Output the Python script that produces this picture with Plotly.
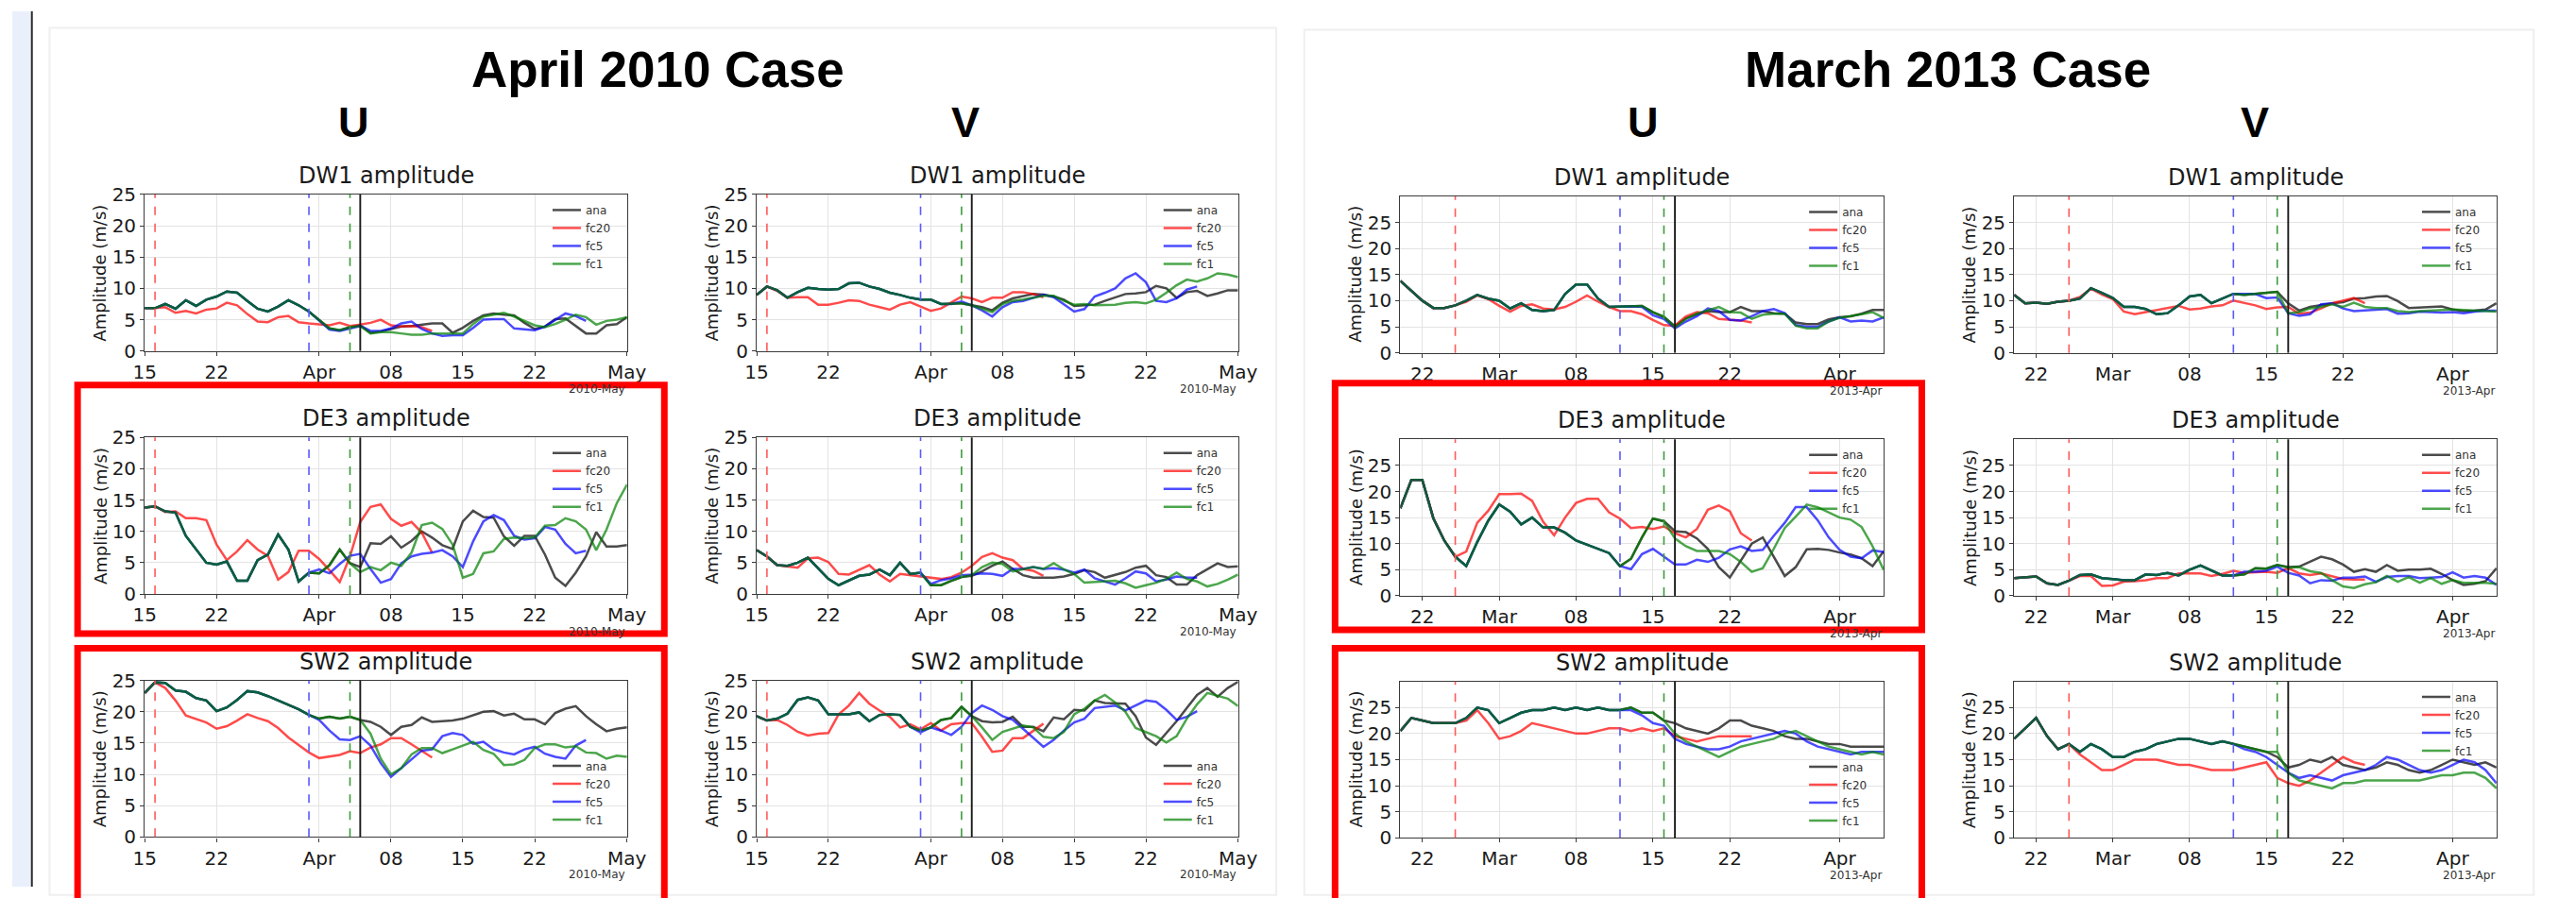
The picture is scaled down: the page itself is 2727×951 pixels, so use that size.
import plotly.graph_objects as go
import pandas as pd

W, H = 2727, 951

# ---------------- dates / init days ----------------
dates_2010 = pd.date_range("2010-03-15", "2010-05-01")
dates_2013 = pd.date_range("2013-02-20", "2013-04-05")
init_2010 = {"ana": "2010-04-05", "fc20": "2010-03-16", "fc5": "2010-03-31", "fc1": "2010-04-04"}
init_2013 = {"ana": "2013-03-17", "fc20": "2013-02-25", "fc5": "2013-03-12", "fc1": "2013-03-16"}

ticks_2010 = ["2010-03-15", "2010-03-22", "2010-04-01", "2010-04-08", "2010-04-15", "2010-04-22", "2010-05-01"]
ticktext_2010 = ["15", "22", "Apr", "08", "15", "22", "May"]
ticks_2013 = ["2013-02-22", "2013-03-01", "2013-03-08", "2013-03-15", "2013-03-22", "2013-04-01"]
ticktext_2013 = ["22", "Mar", "08", "15", "22", "Apr"]
ytick_vals = [0, 5, 10, 15, 20, 25]

# ---------------- April 2010, U ----------------
u_dw1_2010_ana = [6.85, 6.85, 7.5, 6.75, 8.1, 7.2, 8.2, 8.7, 9.5, 9.3, 8.0, 6.75, 6.3, 7.1, 8.1, 7.3, 6.3, 4.9, 3.6, 3.3, 3.8, 4.1,
                  2.9, 3.1, 3.5, 3.9, 4.0, 4.2, 4.4, 4.4,
                  2.9, 3.7, 4.8, 5.7, 6.0, 5.8, 5.7, 4.5, 3.5, 3.9, 5.1, 5.2, 4.0, 2.8, 2.8, 4.1, 4.3, 5.4]
u_dw1_2010_fc20 = [6.85, 7.0, 6.1, 6.4, 6.0, 6.6, 6.8, 7.7, 7.3, 5.9, 4.7, 4.6, 5.4, 5.6, 4.6, 4.4, 4.2, 4.1, 4.5, 4.0, 4.2, 4.5, 5.0, 4.1, 3.9, 4.0, 3.8, 3.2]
u_dw1_2010_fc5 = [6.3, 4.9, 3.4, 3.2, 3.6, 4.0, 3.2, 3.2, 3.6, 4.4, 4.7, 3.5, 2.8, 2.4, 2.5, 2.5, 3.7, 5.0, 5.1, 5.1, 3.6, 3.5, 3.3, 3.9, 5.0, 6.0, 5.6, 4.8]
u_dw1_2010_fc1 = [3.8, 4.0, 2.8, 3.0, 3.0, 2.8, 2.6, 2.6, 2.8, 2.8, 2.8, 2.8, 4.3, 5.5, 5.8, 6.1, 5.5, 4.8, 4.1, 3.8, 4.3, 5.0, 5.8, 5.4, 4.2, 4.8, 5.0, 5.4]

u_de3_2010_ana = [13.8, 14.0, 13.2, 13.0, 9.3, 7.1, 5.0, 4.7, 5.2, 2.1, 2.1, 5.4, 6.3, 9.5, 7.1, 2.0, 3.4, 3.3, 4.6, 7.1, 4.9, 4.3,
                  8.1, 8.0, 9.2, 7.4, 8.5, 10.0, 9.0, 7.8, 7.2, 11.6, 13.3, 12.3, 12.2, 9.2, 7.7, 9.3, 9.3, 6.3, 2.6, 1.3, 3.4, 6.0, 9.9, 7.6, 7.6, 7.8]
u_de3_2010_fc20 = [14.0, 13.1, 13.2, 12.1, 12.1, 11.8, 7.9, 5.4, 6.8, 8.6, 7.1, 6.1, 2.3, 3.5, 6.9, 6.9, 5.6, 3.8, 1.9, 6.0, 11.5, 13.9, 14.3, 12.0, 10.9, 11.5, 9.8, 6.6]
u_de3_2010_fc5 = [3.4, 3.9, 3.3, 4.8, 6.1, 6.4, 4.0, 1.8, 2.4, 4.9, 6.0, 6.4, 6.6, 7.0, 6.0, 4.3, 8.4, 11.6, 12.6, 11.8, 9.3, 8.7, 8.9, 10.7, 10.3, 8.0, 6.5, 6.9]
u_de3_2010_fc1 = [4.9, 3.5, 4.3, 3.8, 5.0, 4.5, 6.6, 11.0, 11.4, 10.4, 7.9, 2.6, 3.2, 6.5, 6.8, 8.8, 9.0, 8.9, 9.0, 10.9, 11.0, 12.1, 11.6, 10.3, 7.0, 10.3, 14.5, 17.5]

u_sw2_2010_ana = [23.0, 24.7, 24.6, 23.4, 23.2, 22.2, 21.8, 20.1, 20.7, 21.9, 23.3, 23.1, 22.5, 21.8, 21.2, 20.4, 19.5, 18.9, 19.2, 18.9, 19.2, 18.7,
                  18.4, 17.6, 16.3, 17.6, 17.9, 19.1, 18.4, 18.5, 18.6, 18.9, 19.4, 20.0, 20.1, 19.4, 19.7, 18.8, 18.8, 18.0, 19.8, 20.5, 20.9, 19.3, 18.0, 16.9, 17.3, 17.5]
u_sw2_2010_fc20 = [24.7, 23.8, 21.8, 19.4, 18.8, 18.3, 17.3, 17.7, 18.6, 19.6, 19.0, 18.5, 17.4, 15.9, 14.7, 13.5, 12.6, 12.9, 13.1, 13.7, 13.4, 14.3, 14.8, 15.8, 15.8, 14.8, 13.8, 12.7]
u_sw2_2010_fc5 = [19.5, 18.7, 17.0, 15.6, 15.5, 16.1, 14.6, 11.8, 9.6, 11.0, 12.4, 13.8, 14.0, 16.1, 16.6, 16.3, 14.9, 15.2, 14.0, 13.5, 13.2, 14.0, 14.4, 13.3, 12.8, 12.5, 14.6, 15.5]
u_sw2_2010_fc1 = [19.2, 18.7, 16.5, 12.5, 10.0, 11.0, 13.2, 14.2, 14.2, 13.4, 14.0, 14.6, 15.2, 13.9, 13.3, 11.5, 11.6, 12.3, 14.2, 14.8, 14.8, 14.3, 14.5, 13.5, 13.4, 12.5, 13.0, 12.8]

# ---------------- April 2010, V ----------------
v_dw1_2010_ana = [8.95, 10.3, 9.7, 8.5, 9.4, 10.1, 9.9, 9.8, 9.9, 10.8, 10.9, 10.3, 9.9, 9.3, 8.95, 8.5, 8.2, 8.2, 7.5, 7.5, 7.6, 7.3,
                  7.0, 6.5, 7.7, 8.4, 8.8, 9.1, 9.0, 8.7, 8.2, 7.2, 7.3, 7.4, 8.0, 8.5, 9.1, 9.2, 9.4, 10.4, 10.0, 8.5, 9.4, 9.6, 8.8, 9.2, 9.7, 9.7]
v_dw1_2010_fc20 = [10.3, 9.6, 8.5, 8.6, 8.6, 7.4, 7.4, 7.7, 8.1, 8.0, 7.4, 7.0, 6.6, 7.4, 7.8, 7.1, 6.4, 6.8, 7.8, 8.7, 8.4, 7.8, 8.5, 8.5, 9.4, 9.4, 9.1, 8.6]
v_dw1_2010_fc5 = [8.2, 8.2, 7.5, 7.5, 7.9, 7.3, 6.5, 5.5, 7.0, 7.8, 8.0, 8.5, 9.0, 8.6, 7.4, 6.3, 6.7, 8.7, 9.3, 10.0, 11.6, 12.4, 11.0, 8.0, 7.8, 8.4, 9.8, 10.3]
v_dw1_2010_fc1 = [7.6, 7.3, 6.8, 6.2, 7.5, 8.0, 8.2, 8.5, 8.8, 8.8, 8.0, 7.4, 7.5, 7.3, 7.3, 7.4, 7.7, 7.8, 7.6, 8.2, 9.3, 10.5, 11.4, 11.1, 11.6, 12.4, 12.2, 11.8]

v_de3_2010_ana = [7.0, 6.0, 4.6, 4.5, 5.0, 5.8, 4.1, 2.4, 1.4, 2.2, 2.9, 3.1, 3.9, 3.0, 5.0, 3.2, 3.4, 1.4, 1.4, 2.1, 2.7, 2.9,
                  3.6, 4.5, 5.2, 4.0, 3.0, 2.6, 2.6, 2.6, 2.8, 3.2, 3.8, 3.5, 2.6, 3.0, 3.5, 4.2, 4.5, 3.0, 2.7, 1.5, 1.5, 3.0, 4.0, 4.9, 4.3, 4.4]
v_de3_2010_fc20 = [6.0, 4.6, 4.4, 4.2, 5.7, 5.8, 5.1, 3.2, 3.1, 3.8, 4.6, 3.1, 2.0, 3.2, 3.0, 2.8, 2.6, 2.4, 2.7, 3.4, 4.5, 5.9, 6.5, 5.8, 5.4, 4.0, 3.7, 2.9]
v_de3_2010_fc5 = [3.4, 1.6, 2.2, 2.5, 3.0, 3.1, 3.3, 3.2, 2.9, 4.0, 4.0, 4.3, 4.0, 4.1, 3.9, 3.4, 3.9, 2.5, 2.0, 1.5, 2.5, 3.6, 3.3, 2.0, 2.3, 2.8, 2.6, 2.6]
v_de3_2010_fc1 = [2.7, 3.0, 4.3, 5.0, 4.8, 3.6, 4.0, 4.3, 4.0, 4.9, 3.9, 3.2, 1.8, 1.9, 2.1, 2.1, 1.7, 1.0, 1.4, 1.8, 2.4, 3.4, 2.4, 2.0, 1.2, 1.6, 2.3, 3.1]

v_sw2_2010_ana = [19.3, 18.6, 18.9, 19.7, 21.9, 22.3, 21.8, 19.6, 19.6, 19.6, 19.9, 18.5, 19.5, 19.6, 19.5, 17.6, 17.0, 17.5, 18.7, 19.0, 20.8, 19.3,
                  18.5, 18.3, 18.4, 19.2, 17.6, 17.6, 16.9, 19.1, 18.8, 20.3, 20.2, 21.8, 21.4, 21.3, 21.3, 19.3, 15.9, 14.7, 16.6, 18.5, 20.6, 22.7, 23.8, 22.4, 23.8, 24.8]
v_sw2_2010_fc20 = [18.6, 18.7, 17.9, 16.8, 16.2, 16.5, 16.6, 19.6, 21.0, 23.0, 21.3, 20.2, 19.2, 17.5, 18.0, 17.2, 18.2, 17.0, 18.0, 18.2, 18.2, 16.0, 13.6, 13.8, 15.8, 15.8, 17.0, 18.1]
v_sw2_2010_fc5 = [16.7, 17.5, 17.0, 16.3, 17.6, 19.8, 21.0, 20.3, 19.3, 18.7, 17.3, 15.8, 14.4, 15.5, 17.0, 18.3, 18.9, 20.6, 20.8, 21.0, 20.2, 21.0, 21.8, 21.6, 20.3, 18.7, 19.2, 20.1]
v_sw2_2010_fc1 = [20.8, 19.3, 17.5, 15.5, 16.8, 17.3, 17.8, 17.5, 16.0, 15.8, 16.8, 19.6, 20.5, 21.8, 22.7, 21.5, 20.0, 17.4, 16.7, 16.1, 15.1, 16.1, 18.9, 21.2, 23.0, 22.5, 22.1, 20.9]

# ---------------- March 2013, U ----------------
u_dw1_2013_ana = [13.8, 11.9, 10.0, 8.6, 8.6, 9.1, 10.0, 11.1, 10.4,
                  10.0, 8.5, 9.5, 8.2, 8.0, 8.2, 11.3, 13.1, 13.1, 10.4, 8.8, 8.9, 8.9, 9.0, 7.8, 6.9, 5.1,
                  6.6, 7.4, 8.0, 7.8, 7.8, 8.8, 8.0, 8.0, 7.6, 7.5, 5.8, 5.5, 5.5, 6.4, 6.8, 7.0, 7.5, 8.2, 8.2]
u_dw1_2013_fc20 = [9.1, 9.8, 11.0, 10.3, 9.0, 7.9, 9.0, 9.3, 8.5, 8.3, 8.8, 9.8, 11.0, 9.8, 8.8, 8.0, 8.0, 7.4, 6.3, 5.3, 5.2, 7.0, 7.8, 7.6, 6.5, 6.3, 6.2, 5.8]
u_dw1_2013_fc5 = [8.9, 8.9, 8.8, 7.2, 6.5, 4.7, 6.0, 7.0, 8.5, 8.0, 6.3, 6.2, 7.0, 8.0, 8.4, 7.6, 5.3, 5.0, 5.0, 6.0, 6.8, 6.0, 6.2, 6.0, 6.8]
u_dw1_2013_fc1 = [6.9, 4.9, 6.5, 7.5, 8.2, 8.8, 7.8, 7.7, 6.5, 7.3, 7.5, 7.5, 5.2, 4.7, 4.7, 6.0, 6.7, 7.0, 7.4, 7.8, 6.7]

u_de3_2013_ana = [16.8, 22.2, 22.2, 14.9, 10.6, 7.5, 5.7, 10.3, 14.4,
                  17.5, 16.1, 13.7, 15.0, 13.1, 13.1, 12.1, 10.6, 9.8, 9.0, 8.2, 5.7, 7.1, 11.2, 14.8, 14.3, 12.4,
                  12.2, 11.0, 9.0, 5.5, 3.5, 6.8, 10.0, 11.2, 7.5, 3.8, 5.5, 8.9, 9.0, 8.8, 8.3, 7.9, 7.2, 5.7, 8.5]
u_de3_2013_fc20 = [7.5, 8.5, 14.0, 16.3, 19.5, 19.5, 19.6, 18.2, 14.2, 11.6, 15.0, 17.8, 18.6, 18.6, 16.0, 14.8, 13.0, 13.2, 12.8, 13.3, 12.0, 11.2, 12.8, 16.5, 17.3, 16.2, 12.0, 10.6]
u_de3_2013_fc5 = [5.7, 5.1, 8.0, 9.0, 7.5, 6.0, 6.0, 6.9, 6.5, 7.3, 8.9, 9.5, 8.6, 8.8, 11.5, 14.0, 17.0, 17.0, 14.5, 11.2, 8.8, 7.5, 7.2, 8.7, 8.4]
u_de3_2013_fc1 = [14.3, 11.0, 9.5, 8.6, 8.6, 8.6, 8.0, 6.5, 4.6, 5.3, 9.0, 13.0, 15.2, 17.5, 17.0, 16.0, 15.0, 14.6, 13.2, 9.5, 5.0]

u_sw2_2013_ana = [20.5, 23.0, 22.5, 22.0, 22.0, 22.0, 23.0, 25.0, 24.5,
                  22.0, 23.0, 24.0, 24.5, 24.5, 25.0, 24.5, 25.0, 24.5, 25.0, 24.5, 24.5, 25.0, 24.0, 24.0, 22.5, 22.0,
                  21.0, 20.5, 20.0, 21.0, 22.5, 22.5, 21.5, 21.0, 20.5, 19.5, 19.0, 19.0, 18.5, 18.0, 18.0, 17.5, 17.5, 17.5, 17.5]
u_sw2_2013_fc20 = [22.0, 22.5, 24.5, 22.0, 19.0, 19.5, 20.5, 22.0, 21.5, 21.0, 20.5, 20.0, 20.0, 20.5, 21.0, 21.0, 20.5, 21.0, 20.5, 21.0, 19.5, 19.0, 18.5, 19.0, 19.5, 19.5, 19.5, 19.5]
u_sw2_2013_fc5 = [24.5, 24.5, 23.5, 22.0, 21.5, 19.0, 18.0, 17.5, 17.0, 17.0, 17.5, 18.5, 19.0, 19.5, 20.0, 20.5, 20.0, 18.5, 17.5, 17.0, 16.5, 16.0, 16.5, 16.5, 16.5]
u_sw2_2013_fc1 = [22.5, 20.0, 18.5, 17.5, 16.5, 15.5, 16.5, 17.5, 18.0, 18.5, 19.0, 20.0, 20.5, 19.5, 18.5, 17.5, 17.0, 16.5, 16.0, 16.5, 16.0]

# ---------------- March 2013, V ----------------
v_dw1_2013_ana = [11.1, 9.5, 9.6, 9.4, 9.8, 10.0, 10.4, 12.4, 11.5,
                  10.5, 8.8, 8.8, 8.4, 7.4, 7.6, 9.1, 10.8, 11.1, 9.5, 10.4, 11.3, 11.1, 11.3, 11.5, 11.7, 9.5,
                  8.1, 8.8, 9.2, 9.5, 9.7, 10.4, 10.5, 10.8, 10.9, 9.9, 8.6, 8.7, 8.9, 8.9, 8.3, 8.0, 8.1, 8.3, 9.5]
v_dw1_2013_fc20 = [10.0, 10.7, 12.3, 11.2, 10.3, 7.9, 7.4, 7.8, 8.2, 8.7, 9.0, 8.3, 8.5, 8.9, 9.1, 10.0, 9.5, 9.1, 8.4, 8.7, 8.8, 7.5, 7.7, 8.5, 9.5, 10.0, 10.5, 9.5]
v_dw1_2013_fc5 = [11.3, 11.3, 11.3, 10.5, 10.6, 7.6, 7.1, 7.4, 9.3, 9.5, 8.5, 8.0, 8.1, 8.3, 8.4, 7.5, 7.6, 7.9, 7.8, 7.7, 7.8, 7.6, 7.9, 8.1, 8.1]
v_dw1_2013_fc1 = [11.7, 7.6, 7.8, 8.5, 8.8, 9.3, 8.8, 9.6, 8.8, 8.6, 8.6, 8.0, 7.8, 8.0, 8.1, 8.3, 8.3, 8.2, 8.1, 8.0, 7.9]

v_de3_2013_ana = [3.4, 3.5, 3.7, 2.4, 2.1, 2.9, 4.0, 4.1, 3.4,
                  3.2, 3.0, 3.0, 4.1, 4.0, 4.4, 3.9, 5.0, 5.8, 4.9, 3.9, 3.9, 4.1, 5.3, 5.2, 5.9, 5.5,
                  5.6, 6.5, 7.5, 7.0, 6.0, 4.6, 5.1, 4.6, 5.9, 4.8, 5.0, 5.0, 5.2, 4.2, 3.0, 2.1, 2.3, 2.8, 5.3]
v_de3_2013_fc20 = [2.9, 3.8, 3.8, 1.9, 2.0, 2.7, 2.8, 3.0, 3.4, 3.4, 4.3, 4.3, 4.3, 3.8, 4.2, 4.8, 4.4, 4.5, 4.6, 4.4, 5.3, 4.3, 4.0, 4.3, 3.8, 3.2, 3.1, 3.1]
v_de3_2013_fc5 = [3.9, 4.6, 4.6, 4.8, 5.6, 4.4, 3.9, 2.4, 3.0, 2.9, 3.5, 3.5, 3.7, 2.7, 3.6, 3.8, 3.8, 3.4, 3.5, 3.6, 4.5, 3.5, 3.8, 3.5, 2.1]
v_de3_2013_fc1 = [5.9, 5.4, 5.5, 4.7, 4.4, 3.0, 1.8, 1.5, 2.2, 2.6, 3.8, 2.7, 3.6, 2.5, 3.4, 2.3, 3.0, 2.5, 2.5, 2.5, 2.3]

v_sw2_2013_ana = [19.0, 21.0, 23.0, 19.5, 17.0, 18.0, 16.5, 18.0, 17.0,
                  15.5, 15.5, 16.5, 17.0, 18.0, 18.5, 19.0, 19.0, 18.5, 18.0, 18.5, 18.0, 17.5, 17.0, 16.5, 15.5, 13.5,
                  14.0, 15.0, 14.5, 15.5, 14.0, 13.5, 13.0, 13.5, 14.5, 14.0, 13.0, 12.5, 13.0, 14.0, 15.0, 14.5, 14.0, 14.5, 13.5]
v_sw2_2013_fc20 = [18.0, 16.0, 14.5, 13.0, 13.0, 14.0, 15.0, 15.0, 15.0, 14.5, 14.0, 14.0, 13.5, 13.0, 13.0, 13.0, 13.5, 14.0, 14.5, 11.5, 10.5, 10.0, 11.0, 12.5, 14.0, 15.5, 14.5, 14.0]
v_sw2_2013_fc5 = [18.0, 17.0, 16.5, 15.5, 14.0, 12.5, 11.5, 12.0, 11.5, 11.0, 12.0, 12.5, 13.0, 14.0, 15.5, 15.0, 14.0, 13.0, 12.5, 13.0, 14.0, 15.0, 14.5, 13.0, 10.5]
v_sw2_2013_fc1 = [16.5, 12.5, 11.0, 10.5, 10.0, 9.5, 10.5, 10.5, 11.0, 11.0, 11.0, 11.0, 11.0, 11.0, 11.5, 12.0, 12.0, 12.5, 12.5, 11.5, 9.5]

# ---------------- layout description ----------------
cols_px = {("2010", "U"): (142, 659), ("2010", "V"): (798, 1314),
           ("2013", "U"): (1488, 2006), ("2013", "V"): (2146, 2663)}
rows_px = {"2010": [(199, 369), (463, 633), (727, 897)],
           "2013": [(201, 371), (465, 635), (728, 898)]}

panels = [
    ("2010", "U", 0, "DW1", u_dw1_2010_ana, u_dw1_2010_fc20, u_dw1_2010_fc5, u_dw1_2010_fc1, "top"),
    ("2010", "U", 1, "DE3", u_de3_2010_ana, u_de3_2010_fc20, u_de3_2010_fc5, u_de3_2010_fc1, "top"),
    ("2010", "U", 2, "SW2", u_sw2_2010_ana, u_sw2_2010_fc20, u_sw2_2010_fc5, u_sw2_2010_fc1, "bottom"),
    ("2010", "V", 0, "DW1", v_dw1_2010_ana, v_dw1_2010_fc20, v_dw1_2010_fc5, v_dw1_2010_fc1, "top"),
    ("2010", "V", 1, "DE3", v_de3_2010_ana, v_de3_2010_fc20, v_de3_2010_fc5, v_de3_2010_fc1, "top"),
    ("2010", "V", 2, "SW2", v_sw2_2010_ana, v_sw2_2010_fc20, v_sw2_2010_fc5, v_sw2_2010_fc1, "bottom"),
    ("2013", "U", 0, "DW1", u_dw1_2013_ana, u_dw1_2013_fc20, u_dw1_2013_fc5, u_dw1_2013_fc1, "top"),
    ("2013", "U", 1, "DE3", u_de3_2013_ana, u_de3_2013_fc20, u_de3_2013_fc5, u_de3_2013_fc1, "top"),
    ("2013", "U", 2, "SW2", u_sw2_2013_ana, u_sw2_2013_fc20, u_sw2_2013_fc5, u_sw2_2013_fc1, "bottom"),
    ("2013", "V", 0, "DW1", v_dw1_2013_ana, v_dw1_2013_fc20, v_dw1_2013_fc5, v_dw1_2013_fc1, "top"),
    ("2013", "V", 1, "DE3", v_de3_2013_ana, v_de3_2013_fc20, v_de3_2013_fc5, v_de3_2013_fc1, "top"),
    ("2013", "V", 2, "SW2", v_sw2_2013_ana, v_sw2_2013_fc20, v_sw2_2013_fc5, v_sw2_2013_fc1, "top"),
]

series_colors = {"ana": "#000000", "fc20": "#ff0000", "fc5": "#0000ff", "fc1": "#008000"}
vline_colors = {"ana": "#1a1a1a", "fc20": "#ff5a5a", "fc5": "#5a5aff", "fc1": "#3c9a3c"}


def fx(x):
    return x / W


def fy(y):
    return 1 - y / H


fig = go.Figure()
annotations = []
shapes = []
layout_extra = {}

# page decoration
shapes.append(dict(type="rect", xref="paper", yref="paper", x0=0, x1=fx(20), y0=0, y1=1,
                   fillcolor="#eaf0fb", line=dict(width=0), layer="below"))
shapes.append(dict(type="line", xref="paper", yref="paper", x0=fx(21), x1=fx(21), y0=0, y1=1,
                   line=dict(color="#2b2b2b", width=2)))
shapes.append(dict(type="rect", xref="paper", yref="paper", x0=fx(40), x1=fx(1355), y0=fy(18), y1=fy(960),
                   line=dict(color="#efefef", width=2), layer="below"))
shapes.append(dict(type="rect", xref="paper", yref="paper", x0=fx(1385), x1=fx(2703), y0=fy(20), y1=fy(960),
                   line=dict(color="#efefef", width=2), layer="below"))

head_font = dict(family="Liberation Sans, Arial, sans-serif", size=53, color="#000000", weight="bold")
annotations.append(dict(text="April 2010 Case", x=fx(692), y=fy(63), xref="paper", yref="paper",
                        showarrow=False, font=head_font, xanchor="center", yanchor="middle"))
annotations.append(dict(text="March 2013 Case", x=fx(2075), y=fy(63), xref="paper", yref="paper",
                        showarrow=False, font=head_font, xanchor="center", yanchor="middle"))
uv_font = dict(family="Liberation Sans, Arial, sans-serif", size=45, color="#000000", weight="bold")
for label, xc in [("U", 366), ("V", 1022), ("U", 1748), ("V", 2404)]:
    annotations.append(dict(text=label, x=fx(xc), y=fy(121), xref="paper", yref="paper",
                            showarrow=False, font=uv_font, xanchor="center", yanchor="middle"))

mpl_font = "DejaVu Sans, sans-serif"

for i, (case, comp, row, wave, ana, fc20, fc5, fc1, legpos) in enumerate(panels):
    n = i + 1
    xa = "x" if n == 1 else f"x{n}"
    ya = "y" if n == 1 else f"y{n}"
    leg = "legend" if n == 1 else f"legend{n}"
    x0p, x1p = cols_px[(case, comp)]
    t_px, b_px = rows_px[case][row]
    dates = dates_2010 if case == "2010" else dates_2013
    inits = init_2010 if case == "2010" else init_2013

    def build(fc, key):
        k = list(dates.strftime("%Y-%m-%d")).index(inits[key])
        vals = list(ana[:k]) + list(fc)
        return dates[:len(vals)], vals

    traces = [("ana", dates, ana)]
    for key, fc in (("fc20", fc20), ("fc5", fc5), ("fc1", fc1)):
        xs, ys = build(fc, key)
        traces.append((key, xs, ys))
    for name, xs, ys in traces:
        fig.add_trace(go.Scatter(x=xs, y=ys, mode="lines", name=name,
                                 line=dict(color=series_colors[name], width=2.5),
                                 opacity=0.7, xaxis=xa, yaxis=ya, legend=leg, showlegend=True))

    # init vertical lines
    for key in ("fc20", "fc5", "fc1", "ana"):
        shapes.append(dict(type="line", xref=xa, yref=f"{ya} domain", x0=inits[key], x1=inits[key],
                           y0=0, y1=1,
                           line=dict(color=vline_colors[key], width=1.6 if key != "ana" else 1.9,
                                     dash="dash" if key != "ana" else "solid")))

    axkey_x = "xaxis" if n == 1 else f"xaxis{n}"
    axkey_y = "yaxis" if n == 1 else f"yaxis{n}"
    if case == "2010":
        xr = ["2010-03-15", "2010-05-01"]
        tv, tt = ticks_2010, ticktext_2010
        yr = [0, 25]
        corner = "2010-May"
    else:
        xr = ["2013-02-20", "2013-04-05"]
        tv, tt = ticks_2013, ticktext_2013
        yr = [0, 30]
        corner = "2013-Apr"
    common = dict(showline=True, mirror=True, linecolor="#3a3a3a", linewidth=1.3,
                  showgrid=True, gridcolor="#e3e3e3", gridwidth=1, zeroline=False,
                  ticks="outside", ticklen=4, tickcolor="#3a3a3a",
                  tickfont=dict(family=mpl_font, size=20, color="#1a1a1a"))
    layout_extra[axkey_x] = dict(common, type="date", range=xr, tickmode="array", tickvals=tv, ticktext=tt,
                                 domain=[fx(x0p), fx(x1p)], anchor=ya)
    layout_extra[axkey_y] = dict(common, range=yr, tickmode="array", tickvals=ytick_vals,
                                 domain=[fy(b_px), fy(t_px)], anchor=xa)

    # subplot title
    annotations.append(dict(text=f"{wave} amplitude", x=fx((x0p + x1p) / 2), y=fy(t_px - 4),
                            xref="paper", yref="paper", showarrow=False, xanchor="center", yanchor="bottom",
                            font=dict(family=mpl_font, size=24, color="#1a1a1a")))
    # y-axis title
    annotations.append(dict(text="Amplitude (m/s)", x=fx(x0p - 48), y=fy((t_px + b_px) / 2),
                            xref="paper", yref="paper", showarrow=False, textangle=-90,
                            xanchor="center", yanchor="middle",
                            font=dict(family=mpl_font, size=18, color="#1a1a1a")))
    # date offset label
    annotations.append(dict(text=corner, x=fx(x1p), y=fy(b_px + 41), xref="paper", yref="paper",
                            showarrow=False, xanchor="right", yanchor="middle",
                            font=dict(family=mpl_font, size=12, color="#333333")))

    if legpos == "top":
        ly, lyanchor = fy(t_px + 2), "top"
    else:
        ly, lyanchor = fy(b_px - 4), "bottom"
    layout_extra[leg] = dict(x=fx(x1p - 12), xanchor="right", y=ly, yanchor=lyanchor,
                             bgcolor="rgba(0,0,0,0)", borderwidth=0, tracegroupgap=0,
                             font=dict(family=mpl_font, size=12, color="#333333"))

# red highlight boxes
for (xl, xr_, yt, yb) in [(70, 699, 406, 676), (70, 699, 692, 975), (1418, 2047, 404, 672), (1418, 2047, 692, 975)]:
    shapes.append(dict(type="rect", xref="paper", yref="paper", x0=fx(xl), x1=fx(xr_), y0=fy(yb), y1=fy(yt),
                       line=dict(color="#ff0000", width=7), fillcolor="rgba(0,0,0,0)", layer="above"))

fig.update_layout(width=W, height=H, autosize=False, margin=dict(l=0, r=0, t=0, b=0, pad=0),
                  paper_bgcolor="#ffffff", plot_bgcolor="#ffffff",
                  annotations=annotations, shapes=shapes, **layout_extra)

fig.write_html("out.html", config={"displayModeBar": False})
